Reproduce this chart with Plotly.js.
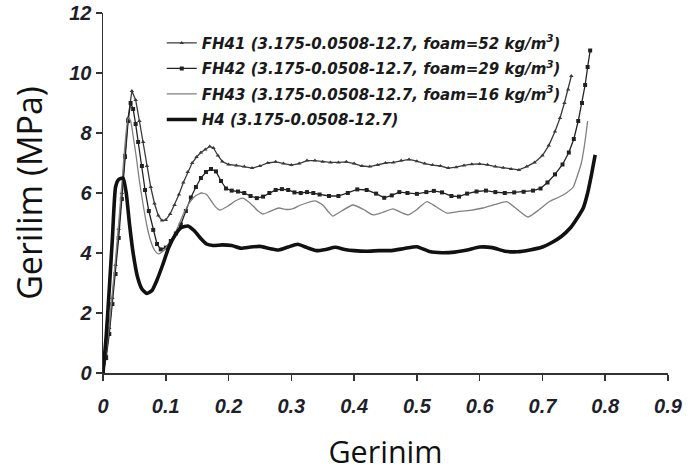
<!DOCTYPE html>
<html>
<head>
<meta charset="utf-8">
<script src="https://cdn.plot.ly/plotly-3.0.1.min.js"></script>
<style>html,body{margin:0;padding:0;background:#fff;}#chart{width:690px;height:472px;}</style>
</head>
<body>
<div id="chart"></div>
<script>
// Series names
const names = [
  "FH41 (3.175-0.0508-12.7, foam=52 kg/m<sup>3</sup>)",
  "FH42 (3.175-0.0508-12.7, foam=29 kg/m<sup>3</sup>)",
  "FH43 (3.175-0.0508-12.7, foam=16 kg/m<sup>3</sup>)",
  "H4 (3.175-0.0508-12.7)"
];

// FH41 (triangles)
const fh41X = [0,0.005,0.01,0.015,0.02,0.025,0.03,0.035,0.04,0.046,0.052,0.058,0.064,0.07,0.076,0.082,0.088,0.094,0.1,0.107,0.114,0.121,0.128,0.135,0.142,0.149,0.156,0.163,0.17,0.176,0.183,0.19,0.2,0.2125,0.225,0.2375,0.25,0.2625,0.275,0.2875,0.3,0.3125,0.325,0.3375,0.35,0.3625,0.375,0.3875,0.4,0.4125,0.425,0.4375,0.45,0.4625,0.475,0.4875,0.5,0.5125,0.525,0.5375,0.55,0.5625,0.575,0.5875,0.6,0.6125,0.625,0.6375,0.65,0.6625,0.675,0.6875,0.7,0.71,0.72,0.728,0.735,0.741,0.746];
const fh41Y = [0,0.6,1.5,2.5,3.6,4.8,6.0,7.3,8.5,9.4,9.1,8.4,7.7,6.9,6.2,5.65,5.25,5.08,5.1,5.3,5.6,5.95,6.35,6.7,7.0,7.2,7.35,7.45,7.55,7.5,7.25,7.05,6.95,6.92,6.88,6.83,6.9,7.0,7.04,6.98,6.93,6.98,7.08,7.08,7.04,7.02,7.02,7.04,6.98,6.9,6.88,6.93,7.0,7.02,7.08,7.12,7.06,6.98,6.93,6.9,6.83,6.86,6.92,6.96,6.97,6.94,6.88,6.84,6.8,6.77,6.88,7.02,7.25,7.58,8.05,8.5,9.0,9.45,9.9];

// FH42 (squares)
const fh42X = [0,0.005,0.01,0.015,0.02,0.025,0.03,0.035,0.04,0.044,0.048,0.052,0.056,0.062,0.067,0.073,0.08,0.086,0.092,0.1,0.108,0.116,0.124,0.132,0.14,0.148,0.156,0.164,0.172,0.18,0.188,0.196,0.205,0.215,0.225,0.235,0.245,0.255,0.265,0.275,0.285,0.295,0.305,0.315,0.325,0.335,0.345,0.36,0.375,0.39,0.405,0.42,0.435,0.448,0.46,0.472,0.485,0.5,0.515,0.527,0.54,0.555,0.567,0.58,0.595,0.61,0.625,0.64,0.655,0.67,0.685,0.697,0.708,0.72,0.732,0.742,0.75,0.757,0.763,0.768,0.772,0.776];
const fh42Y = [0,0.5,1.3,2.3,3.3,4.5,5.8,7.2,8.4,9.0,8.8,8.3,7.7,6.9,6.1,5.4,4.77,4.3,4.12,4.18,4.4,4.65,4.95,5.4,5.85,6.2,6.5,6.7,6.8,6.72,6.4,6.15,6.08,6.05,6.0,5.9,5.83,5.88,6.0,6.1,6.13,6.1,6.02,6.0,6.03,6.0,5.95,5.9,5.9,6.0,6.12,6.1,5.98,5.84,5.92,6.03,6.0,5.97,6.03,6.07,6.02,5.9,5.88,5.98,6.05,6.08,6.03,6.0,6.02,6.04,6.08,6.15,6.35,6.62,6.95,7.35,7.8,8.4,9.0,9.6,10.2,10.75];

// FH43 (thin grey line)
const fh43X = [0,0.005,0.01,0.015,0.02,0.025,0.03,0.035,0.04,0.044,0.048,0.053,0.058,0.064,0.07,0.076,0.082,0.088,0.095,0.103,0.112,0.12,0.128,0.137,0.147,0.157,0.165,0.172,0.18,0.186,0.198,0.212,0.223,0.235,0.247,0.255,0.265,0.28,0.292,0.303,0.315,0.338,0.35,0.36,0.366,0.38,0.398,0.415,0.43,0.445,0.462,0.475,0.486,0.5,0.516,0.53,0.548,0.565,0.585,0.605,0.625,0.643,0.66,0.677,0.695,0.71,0.725,0.738,0.749,0.756,0.762,0.767,0.772];
const fh43Y = [0,0.7,1.6,2.7,3.8,5.0,6.3,7.6,8.5,8.4,7.9,7.2,6.4,5.6,4.9,4.4,4.1,3.97,4.05,4.25,4.55,4.9,5.3,5.65,5.9,6.0,5.95,5.75,5.52,5.43,5.55,5.75,5.83,5.65,5.4,5.3,5.38,5.5,5.45,5.48,5.6,5.74,5.6,5.35,5.23,5.4,5.6,5.45,5.27,5.35,5.47,5.35,5.27,5.45,5.71,5.55,5.33,5.38,5.42,5.5,5.62,5.71,5.45,5.2,5.45,5.7,5.85,6.0,6.2,6.6,7.0,7.6,8.4];

// H4 (thick black)
const h4X = [0,0.005,0.01,0.015,0.02,0.025,0.032,0.037,0.042,0.048,0.055,0.062,0.07,0.078,0.086,0.095,0.105,0.115,0.125,0.135,0.145,0.155,0.165,0.175,0.19,0.205,0.22,0.235,0.25,0.265,0.28,0.295,0.31,0.325,0.34,0.355,0.37,0.385,0.4,0.42,0.44,0.46,0.48,0.5,0.52,0.54,0.56,0.58,0.6,0.62,0.64,0.66,0.68,0.7,0.715,0.73,0.745,0.755,0.765,0.772,0.778,0.784];
const h4Y = [0,1.2,2.8,4.5,6.2,6.45,6.5,6.0,5.0,4.0,3.2,2.8,2.65,2.75,3.1,3.6,4.2,4.6,4.85,4.9,4.75,4.5,4.3,4.25,4.27,4.25,4.16,4.2,4.22,4.15,4.1,4.2,4.29,4.18,4.08,4.12,4.19,4.12,4.08,4.06,4.08,4.08,4.15,4.21,4.05,4.01,4.03,4.1,4.2,4.18,4.06,4.04,4.1,4.2,4.35,4.55,4.85,5.15,5.5,6.0,6.6,7.27];

// Axis ticks
const xTicks = [0,0.1,0.2,0.3,0.4,0.5,0.6,0.7,0.8,0.9];
const xTickText = ["0","0.1","0.2","0.3","0.4","0.5","0.6","0.7","0.8","0.9"];
const yTicks = [0,2,4,6,8,10,12];

const traces = [
  {x: fh41X, y: fh41Y, name: names[0], mode: "lines+markers", legendgroup: "a",
   line: {color: "#3a3a3a", width: 1.3},
   marker: {symbol: "triangle-up", size: 4, color: "#3a3a3a"}},
  {x: fh42X, y: fh42Y, name: names[1], mode: "lines+markers", legendgroup: "b",
   line: {color: "#222", width: 1.3},
   marker: {symbol: "square", size: 4, color: "#222"}},
  {x: fh43X, y: fh43Y, name: names[2], mode: "lines", legendgroup: "c",
   line: {color: "#808080", width: 1.3, shape: "spline", smoothing: 0.5}},
  {x: h4X, y: h4Y, name: names[3], mode: "lines", legendgroup: "d",
   line: {color: "#111", width: 3.6, shape: "spline", smoothing: 0.5}}
];

const tickFont = {family: "Liberation Sans, Arial, sans-serif", size: 20, weight: "bold", style: "italic", color: "#1f1f2a"};

const layout = {
  width: 690, height: 472,
  margin: {l: 103, r: 22, t: 13, b: 99},
  paper_bgcolor: "#fff", plot_bgcolor: "#fff",
  showlegend: true,
  legend: {
    x: 0.104, y: 0.962, xanchor: "left", yanchor: "top",
    bgcolor: "rgba(0,0,0,0)", traceorder: "grouped", tracegroupgap: 3,
    font: {family: "DejaVu Sans, sans-serif", size: 15, weight: "bold", style: "italic", color: "#1a1a1a"}
  },
  xaxis: {
    range: [0, 0.9], tickvals: xTicks, ticktext: xTickText,
    showline: true, linecolor: "#333", linewidth: 1.5,
    ticks: "outside", ticklen: 6, tickcolor: "#333", tickwidth: 1.5,
    ticklabelstandoff: 8,
    showgrid: false, zeroline: false, tickfont: tickFont,
    title: {text: "Gerinim", font: {family: "Open Sans, sans-serif", size: 30.5, color: "#111"}, standoff: 27}
  },
  yaxis: {
    range: [0, 12], tickvals: yTicks,
    showline: true, linecolor: "#333", linewidth: 1.5,
    ticks: "outside", ticklen: 6, tickcolor: "#333", tickwidth: 1.5,
    showgrid: false, zeroline: false, tickfont: tickFont,
    title: {text: "Gerilim (MPa)", font: {family: "Open Sans, sans-serif", size: 34, color: "#111"}, standoff: 16}
  }
};

Plotly.newPlot("chart", traces, layout, {displayModeBar: false, staticPlot: true});
</script>
</body>
</html>
